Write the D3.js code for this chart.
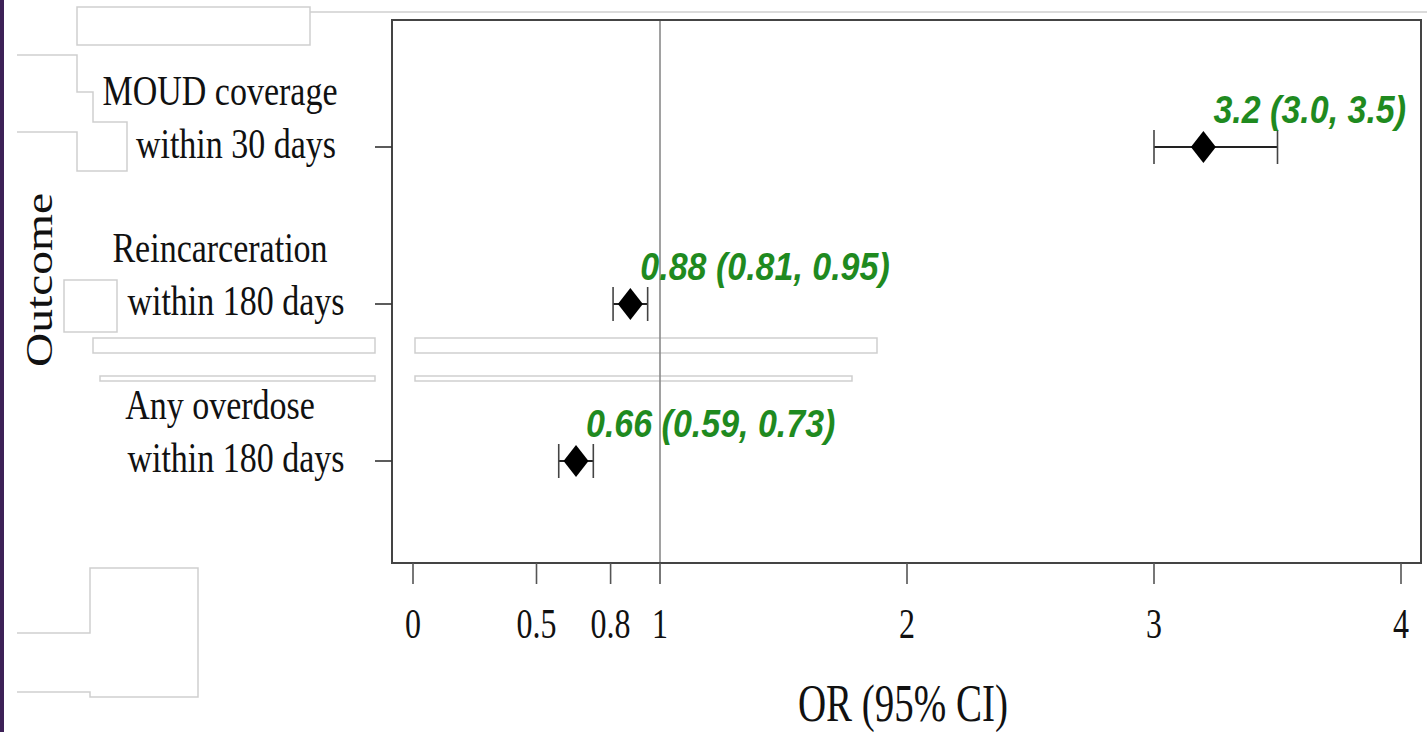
<!DOCTYPE html>
<html>
<head>
<meta charset="utf-8">
<script src="https://cdn.jsdelivr.net/npm/d3@7"></script>
<style>
  body { margin: 0; background: #fff; }
  svg { display: block; }
</style>
</head>
<body>
<div id="chart"></div>
<script>
// outcomes, two lines each
var outcomeLine1 = ['MOUD coverage', 'Reincarceration', 'Any overdose']
var outcomeLine2 = ['within 30 days', 'within 180 days', 'within 180 days']
var orValues = [3.2, 0.88, 0.66]
var lowerCI = [3.0, 0.81, 0.59]
var upperCI = [3.5, 0.95, 0.73]
var orLabels = ['3.2 (3.0, 3.5)', '0.88 (0.81, 0.95)', '0.66 (0.59, 0.73)']
var xTicks = [0, 0.5, 0.8, 1, 2, 3, 4]

var width = 1427
var height = 732
var box = { left: 392, right: 1421, top: 20, bottom: 563 }

var svg = d3
  .select('#chart')
  .append('svg')
  .attr('width', width)
  .attr('height', height)

var xScale = d3.scaleLinear().domain([0, 4]).range([413, 1401])
var yScale = d3.scalePoint().domain(d3.range(outcomeLine1.length)).range([147, 461])

var serif = 'Liberation Serif, Times New Roman, serif'
var sans = 'Liberation Sans, Arial, sans-serif'

// text that is stretched vertically like the source image
function tallText(x, y, str, size, sy, font, anchor) {
  var g = svg.append('g').attr('transform', 'translate(' + x + ',' + y + ')')
  return g.append('text')
    .attr('transform', 'scale(1,' + sy + ')')
    .attr('text-anchor', anchor || 'start')
    .attr('font-family', font)
    .attr('font-size', size)
    .text(str)
}

// left purple strip
svg.append('rect').attr('x', 0).attr('y', 0).attr('width', 4).attr('height', height).attr('fill', '#3d2157')

// faint leftover boxes in the picture
var faint = [
  'M77,7H310V45H77Z',
  'M310,12H1427',
  'M17,55H77V92H93V122H127V171H77V132H17',
  'M64,280H117V332H64Z',
  'M93,338H375V353H93Z',
  'M415,338H877V353H415Z',
  'M100,376H375V381H100Z',
  'M415,376H852V381H415Z',
  'M17,633H90V568H198V697H90V692H17'
]
svg.selectAll('.faint')
  .data(faint)
  .enter()
  .append('path')
  .attr('class', 'faint')
  .attr('d', d => d)
  .attr('fill', 'none')
  .attr('stroke', '#cfcfcf')
  .attr('stroke-width', 1.5)

// reference line at OR = 1
svg.append('line')
  .attr('x1', xScale(1)).attr('x2', xScale(1))
  .attr('y1', box.top).attr('y2', box.bottom)
  .attr('stroke', '#8a8a8a')
  .attr('stroke-width', 1.6)

// plot box
svg.append('rect')
  .attr('x', box.left).attr('y', box.top)
  .attr('width', box.right - box.left).attr('height', box.bottom - box.top)
  .attr('fill', 'none')
  .attr('stroke', '#444')
  .attr('stroke-width', 2)

// x axis ticks
svg.selectAll('.xtick')
  .data(xTicks)
  .enter()
  .append('line')
  .attr('class', 'xtick')
  .attr('x1', d => xScale(d)).attr('x2', d => xScale(d))
  .attr('y1', box.bottom).attr('y2', box.bottom + 21)
  .attr('stroke', '#555')
  .attr('stroke-width', 1.6)

xTicks.forEach(function (t) {
  tallText(xScale(t), 638, String(t), 32, 1.33, serif, 'middle').attr('fill', '#111')
})

tallText(903, 721, 'OR (95% CI)', 39, 1.38, serif, 'middle').attr('fill', '#111')

// y axis ticks and labels
yScale.domain().forEach(function (i) {
  var y = yScale(i)
  svg.append('line')
    .attr('x1', 375).attr('x2', box.left)
    .attr('y1', y).attr('y2', y)
    .attr('stroke', '#333')
    .attr('stroke-width', 1.6)
  tallText(220, y - 42, outcomeLine1[i], 34, 1.25, serif, 'middle').attr('fill', '#111')
  tallText(236, y + 11, outcomeLine2[i], 34, 1.25, serif, 'middle').attr('fill', '#111')
})

// Outcome title
svg.append('g')
  .attr('transform', 'translate(52,280) scale(1,1.25) rotate(-90)')
  .append('text')
  .attr('text-anchor', 'middle')
  .attr('font-family', serif)
  .attr('font-size', 38)
  .attr('fill', '#111')
  .text('Outcome')

// error bars
var rows = yScale.domain()
svg.selectAll('.ci')
  .data(rows)
  .enter()
  .append('line')
  .attr('class', 'ci')
  .attr('x1', i => xScale(lowerCI[i])).attr('x2', i => xScale(upperCI[i]))
  .attr('y1', i => yScale(i)).attr('y2', i => yScale(i))
  .attr('stroke', '#222')
  .attr('stroke-width', 2)

svg.selectAll('.cap')
  .data(rows.flatMap(i => [[i, lowerCI[i]], [i, upperCI[i]]]))
  .enter()
  .append('line')
  .attr('class', 'cap')
  .attr('x1', d => xScale(d[1])).attr('x2', d => xScale(d[1]))
  .attr('y1', d => yScale(d[0]) - 17).attr('y2', d => yScale(d[0]) + 17)
  .attr('stroke', '#444')
  .attr('stroke-width', 1.6)

// diamonds
svg.selectAll('.est')
  .data(rows)
  .enter()
  .append('path')
  .attr('class', 'est')
  .attr('d', function (i) {
    var x = xScale(orValues[i])
    var y = yScale(i)
    return 'M' + (x - 12.5) + ',' + y + 'L' + x + ',' + (y - 16) + 'L' + (x + 12.5) + ',' + y + 'L' + x + ',' + (y + 16) + 'Z'
  })
  .attr('fill', '#000')

// estimate labels
rows.forEach(function (i) {
  tallText(xScale(orValues[i]) + 10, yScale(i) - 24, orLabels[i], 34, 1.12, sans, 'start')
    .attr('fill', '#1f8a1f')
    .attr('font-weight', 'bold')
    .attr('font-style', 'italic')
})
</script>
</body>
</html>
